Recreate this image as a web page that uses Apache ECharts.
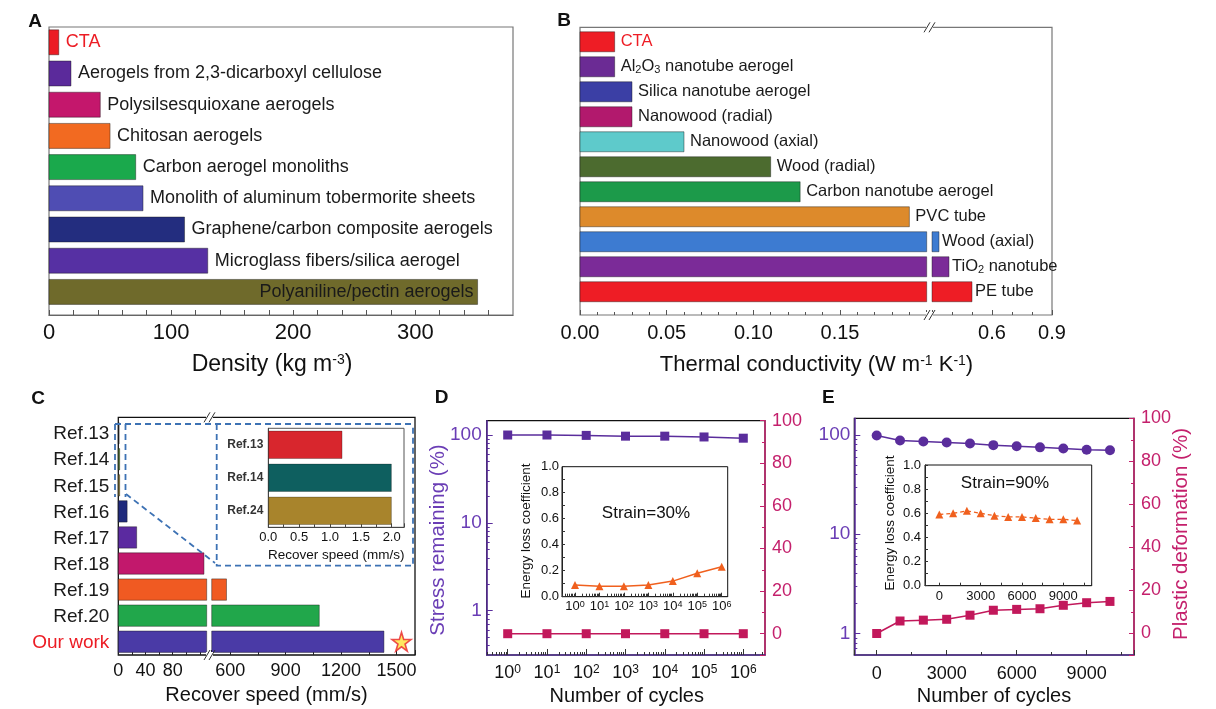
<!DOCTYPE html>
<html><head><meta charset="utf-8">
<script src="https://cdn.jsdelivr.net/npm/echarts@6/dist/echarts.min.js"></script>
<style>html,body{margin:0;padding:0;background:#fff}#c{width:1216px;height:709px}</style>
</head><body><div id="c"></div>
<script>
const FONT = '"Liberation Sans", Arial, Helvetica, sans-serif';

// ---------- Panel A : density ----------
const densityCategories = ['CTA','Aerogels from 2,3-dicarboxyl cellulose','Polysilsesquioxane aerogels','Chitosan aerogels','Carbon aerogel monoliths','Monolith of aluminum tobermorite sheets','Graphene/carbon composite aerogels','Microglass fibers/silica aerogel','Polyaniline/pectin aerogels'];
const densityValues = [8, 18, 42, 50, 71, 77, 111, 130, 351];
const densityColors = ['#ec1c24','#5b2a9b','#c4176c','#f26a21','#1aa94c','#4f4db3','#232d7f','#5630a3','#6f6a2b'];

// ---------- Panel B : thermal conductivity ----------
const conductivityCategories = ['CTA','Al{sub|2}O{sub|3} nanotube aerogel','Silica nanotube aerogel','Nanowood (radial)','Nanowood (axial)','Wood (radial)','Carbon nanotube aerogel','PVC tube','Wood (axial)','TiO{sub|2} nanotube','PE tube'];
const conductivityValues = [0.020, 0.020, 0.030, 0.030, 0.060, 0.110, 0.127, 0.190, 0.335, 0.385, 0.500];
const conductivityColors = ['#ee1d25','#6b2b94','#3b3fa5','#b2196d','#5ecacb','#4c6b2f','#1c9a4a','#dd8a2b','#3d7bd1','#7b2b98','#ee1d25'];

// ---------- Panel C : recover speed ----------
const speedCategories = ['Ref.13','Ref.14','Ref.15','Ref.16','Ref.17','Ref.18','Ref.19','Ref.20','Our work'];
const speedValues = [1.2, 2, 2, 13, 27, 126, 580, 1082, 1432];
const speedColors = ['#222222','#4f7a2a','#8a7a2a','#1f2a7c','#5b2aa0','#c2186c','#f05a22','#21a74b','#4a3aa6'];
const starSpeed = [[1527, 8]];
const insetSpeedCategories = ['Ref.13','Ref.14','Ref.24'];
const insetSpeedValues = [1.2, 2.0, 2.0];
const insetSpeedColors = ['#d8262d','#0e5f5f','#a8842c'];

// ---------- Panel D ----------
const cyclesD = [1, 10, 100, 1000, 10000, 100000, 1000000];
const stressD = [100, 100, 99, 97, 97, 95, 92];
const plasticD = [0, 0, 0, 0, 0, 0, 0];
const energyD = [0.09, 0.08, 0.08, 0.09, 0.12, 0.18, 0.23];

// ---------- Panel E ----------
const cyclesE = [0, 1000, 2000, 3000, 4000, 5000, 6000, 7000, 8000, 9000, 10000];
const stressE = [99, 88, 86, 84, 82, 79, 77, 75, 73, 71, 70];
const plasticE = [0, 5.8, 6.2, 6.6, 8.5, 10.8, 11.2, 11.5, 13.1, 14.3, 14.9];
const energyE = [0.59, 0.60, 0.62, 0.60, 0.58, 0.57, 0.57, 0.56, 0.55, 0.55, 0.54];

const PURPLE = '#5a2d9c', PURPLE_T = '#6a3db5', MAGENTA = '#c4206c', ORANGE = '#f0601e';

function isPow10(v) { const l = Math.log10(v); return Math.abs(l - Math.round(l)) < 1e-6; }
function powLabel(v) { return isPow10(v) ? '{b|10}{s|' + Math.round(Math.log10(v)) + '}' : ''; }
function plainPow(v) { return isPow10(v) ? String(Math.round(v)) : ''; }
function logMinor(lo, hi) {
  const r = [];
  for (let e = Math.floor(Math.log10(lo)); e <= Math.ceil(Math.log10(hi)); e++)
    for (let m = 2; m <= 9; m++) { const v = m * Math.pow(10, e); if (v > lo && v < hi) r.push(v); }
  return r;
}

function makeBarRender(cfg) {
  return function (params, api) {
    const i = api.value(1), v = api.value(0);
    const cs = params.coordSys;
    const p0 = api.coord([0, i]), p1 = api.coord([v, i]);
    const h = api.size([0, cfg.barH], [0, i])[1];
    const x0 = Math.max(p0[0], cs.x), x1 = Math.min(p1[0], cs.x + cs.width);
    const kids = [];
    if (x1 > x0) kids.push({ type: 'rect', shape: { x: x0, y: p1[1] - h / 2, width: x1 - x0, height: h },
      style: { fill: cfg.colors[i], stroke: 'rgba(20,20,20,0.6)', lineWidth: 0.7 } });
    if (cfg.label) { const L = cfg.label(i, v, p1, cs); if (L) kids.push(L); }
    return { type: 'group', children: kids };
  };
}
function txt(x, y, text, size, color, extra) {
  return Object.assign({ type: 'text', x: x, y: y, z: 100,
    style: Object.assign({ text: text, fontSize: size, fontFamily: FONT, fill: color || '#111',
      align: 'center', verticalAlign: 'middle', textAlign: 'center', textVerticalAlign: 'middle' }, (extra && extra.style) || {}) },
    extra && extra.rotation ? { rotation: extra.rotation } : {});
}
const supRich = (base) => ({ s: { fontSize: Math.round(base * 0.62), verticalAlign: 'top', fontFamily: FONT } });
const subRich = { sub: { fontSize: 11, verticalAlign: 'bottom', fontFamily: FONT } };

const hidden = (g) => ({ gridIndex: g, type: 'value', show: false, min: 0, max: 1 });
const tickIn = (len, color) => ({ show: true, inside: true, length: len, lineStyle: { color: color || '#444' } });
const minorIn = (n, color) => ({ show: true, splitNumber: n, length: 3, lineStyle: { color: color || '#444' } });
const plain = v => String(v);

const grids = [
  { left: 49, top: 27, width: 464, height: 288, show: true, borderColor: '#777', borderWidth: 1.2 },       // 0 A
  { left: 580, top: 27.3, width: 472, height: 287.7, show: true, borderColor: '#777', borderWidth: 1.2 },  // 1 B frame
  { left: 580, top: 27.3, width: 346.7, height: 287.7 },                                                   // 2 B left
  { left: 932, top: 27.3, width: 120, height: 287.7 },                                                     // 3 B right
  { left: 118.3, top: 417.3, width: 296.7, height: 237.7, show: true, borderColor: '#111', borderWidth: 1.3 }, // 4 C frame
  { left: 118.3, top: 417.3, width: 88.4, height: 237.7 },                                                 // 5 C left
  { left: 211.7, top: 417.3, width: 203.3, height: 237.7 },                                                // 6 C right
  { left: 268.3, top: 428.3, width: 135.7, height: 99, show: true, borderColor: '#555', borderWidth: 1, backgroundColor: '#fff' }, // 7 C inset
  { left: 486.7, top: 420.7, width: 278.3, height: 234.3, show: true, borderColor: '#111', borderWidth: 1.2 }, // 8 D
  { left: 562, top: 466.7, width: 165.7, height: 130, show: true, borderColor: '#111', borderWidth: 1 },  // 9 D inset
  { left: 854.3, top: 418.3, width: 279.7, height: 236.7, show: true, borderColor: '#111', borderWidth: 1.2 }, // 10 E
  { left: 925, top: 465, width: 166.7, height: 120.7, show: true, borderColor: '#111', borderWidth: 1 }   // 11 E inset
];

const D_X = [0.292, 3.57e6], D_Y = [0.313, 145.5], DI_X = [0.294, 1.76e6], E_Y = [0.604, 147.3];
const minorOverlay = (g, dim, ext, pos, color) => ({
  gridIndex: g, type: 'log', logBase: 10, min: ext[0], max: ext[1], position: pos, splitLine: { show: false },
  axisLine: { show: false, onZero: false }, axisLabel: { show: false },
  axisTick: { show: true, inside: true, length: 3, customValues: logMinor(ext[0], ext[1]), lineStyle: { color: color } } });

const xAxes = [
  { gridIndex: 0, type: 'value', min: 0, max: 380, interval: 20, splitLine: { show: false },
    axisLine: { show: true, lineStyle: { color: '#666', width: 1.2 } }, axisTick: tickIn(5, '#555'),
    axisLabel: { formatter: v => (v % 100 === 0 ? String(v) : ''), fontSize: 22, color: '#111', margin: 7, fontFamily: FONT, showMaxLabel: false } },
  hidden(1),
  { gridIndex: 2, type: 'value', min: 0, max: 0.2, interval: 0.05, splitLine: { show: false },
    axisLine: { show: false }, axisTick: tickIn(5, '#555'), minorTick: minorIn(5, '#555'),
    axisLabel: { formatter: v => v.toFixed(2), fontSize: 20, color: '#111', margin: 8, fontFamily: FONT, showMaxLabel: false } },
  { gridIndex: 3, type: 'value', min: 0.3, max: 0.9, interval: 0.3, splitLine: { show: false },
    axisLine: { show: false }, axisTick: tickIn(5, '#555'), minorTick: minorIn(3, '#555'),
    axisLabel: { formatter: v => v.toFixed(1), fontSize: 20, color: '#111', margin: 8, fontFamily: FONT, showMinLabel: false } },
  hidden(4),
  { gridIndex: 5, type: 'value', min: 0, max: 130, interval: 20, splitLine: { show: false },
    axisLine: { show: false }, axisTick: tickIn(5, '#222'),
    axisLabel: { formatter: v => (v % 40 === 0 && v <= 80 ? String(v) : ''), fontSize: 18, color: '#111', margin: 7, fontFamily: FONT, showMaxLabel: false } },
  { gridIndex: 6, type: 'value', min: 500, max: 1600, splitNumber: 4, splitLine: { show: false },
    axisLine: { show: false }, axisTick: tickIn(5, '#222'), minorTick: minorIn(2, '#222'),
    axisLabel: { formatter: plain, fontSize: 18, color: '#111', margin: 7, fontFamily: FONT, showMinLabel: false, showMaxLabel: false } },
  { gridIndex: 7, type: 'value', min: 0, max: 2.2, interval: 0.5, splitLine: { show: false },
    axisLine: { show: true, lineStyle: { color: '#444' } }, axisTick: tickIn(4, '#444'), minorTick: minorIn(2, '#444'),
    axisLabel: { formatter: v => v.toFixed(1), fontSize: 13, color: '#111', margin: 4, fontFamily: FONT, showMaxLabel: false },
    name: 'Recover speed (mm/s)', nameLocation: 'middle', nameGap: 21, nameTextStyle: { fontSize: 13.5, color: '#111', fontFamily: FONT } },
  { gridIndex: 8, type: 'log', logBase: 10, min: D_X[0], max: D_X[1], splitLine: { show: false },
    axisLine: { show: true, lineStyle: { color: '#4b2a8a', width: 1.5 } }, axisTick: tickIn(6, '#333'),
    axisLabel: { formatter: powLabel, fontSize: 18, color: '#111', margin: 9, fontFamily: FONT, showMinLabel: false, showMaxLabel: false,
      rich: { b: { fontSize: 18, fontFamily: FONT }, s: { fontSize: 12, verticalAlign: 'top', fontFamily: FONT } } } },
  { gridIndex: 9, type: 'log', logBase: 10, min: DI_X[0], max: DI_X[1], splitLine: { show: false },
    axisLine: { show: true, lineStyle: { color: '#222' } }, axisTick: tickIn(4, '#333'),
    axisLabel: { formatter: powLabel, fontSize: 13, color: '#111', margin: 3, fontFamily: FONT, showMinLabel: false, showMaxLabel: false,
      rich: { b: { fontSize: 13, fontFamily: FONT }, s: { fontSize: 9, verticalAlign: 'top', fontFamily: FONT } } } },
  { gridIndex: 10, type: 'value', min: -960, max: 11030, splitNumber: 4, splitLine: { show: false },
    axisLine: { show: true, lineStyle: { color: '#4b2a8a', width: 1.5 } }, axisTick: tickIn(5, '#333'), minorTick: minorIn(2, '#333'),
    axisLabel: { formatter: plain, fontSize: 18, color: '#111', margin: 10, fontFamily: FONT, showMinLabel: false, showMaxLabel: false } },
  { gridIndex: 11, type: 'value', min: -1040, max: 11060, splitNumber: 4, splitLine: { show: false },
    axisLine: { show: true, lineStyle: { color: '#222' } }, axisTick: tickIn(3, '#333'), minorTick: minorIn(2, '#333'),
    axisLabel: { formatter: plain, fontSize: 13, color: '#111', margin: 4, fontFamily: FONT, showMinLabel: false, showMaxLabel: false } },
  minorOverlay(8, 'x', D_X, 'bottom', '#333'),   // 12
  minorOverlay(9, 'x', DI_X, 'bottom', '#333')   // 13
];

const yHiddenVal = (g, mn, mx) => ({ gridIndex: g, type: 'value', min: mn, max: mx, inverse: true, show: false });
const yAxes = [
  yHiddenVal(0, -0.49, 8.74),
  hidden(1),
  yHiddenVal(2, -0.58, 10.93),
  yHiddenVal(3, -0.58, 10.93),
  hidden(4),
  yHiddenVal(5, -0.61, 8.51),
  yHiddenVal(6, -0.61, 8.51),
  { gridIndex: 7, type: 'category', inverse: true, data: insetSpeedCategories,
    axisLine: { show: true, lineStyle: { color: '#444' } }, axisTick: { show: false },
    axisLabel: { fontSize: 12, fontWeight: 'bold', color: '#333', margin: 5, fontFamily: FONT } },
  { gridIndex: 8, type: 'log', logBase: 10, min: D_Y[0], max: D_Y[1], position: 'left', splitLine: { show: false },
    axisLine: { show: true, lineStyle: { color: PURPLE, width: 1.5 } }, axisTick: tickIn(6, PURPLE),
    axisLabel: { formatter: plainPow, fontSize: 19, color: PURPLE_T, margin: 5, fontFamily: FONT, showMinLabel: false, showMaxLabel: false } },
  { gridIndex: 8, type: 'value', min: -10, max: 100, position: 'right', splitLine: { show: false },
    axisLine: { show: true, lineStyle: { color: MAGENTA, width: 1.5 } }, axisTick: tickIn(5, MAGENTA), minorTick: minorIn(2, MAGENTA),
    axisLabel: { fontSize: 18, color: MAGENTA, margin: 7, fontFamily: FONT, showMinLabel: false } },
  { gridIndex: 9, type: 'value', min: 0, max: 1, interval: 0.2, splitLine: { show: false },
    axisLine: { show: true, lineStyle: { color: '#222' } }, axisTick: tickIn(3, '#333'), minorTick: minorIn(2, '#333'),
    axisLabel: { formatter: v => v.toFixed(1), fontSize: 13, color: '#111', margin: 3, fontFamily: FONT } },
  { gridIndex: 10, type: 'log', logBase: 10, min: E_Y[0], max: E_Y[1], position: 'left', splitLine: { show: false },
    axisLine: { show: true, lineStyle: { color: PURPLE, width: 1.5 } }, axisTick: tickIn(6, PURPLE),
    axisLabel: { formatter: plainPow, fontSize: 19, color: PURPLE_T, margin: 4, fontFamily: FONT, showMinLabel: false, showMaxLabel: false } },
  { gridIndex: 10, type: 'value', min: -10, max: 100, position: 'right', splitLine: { show: false },
    axisLine: { show: true, lineStyle: { color: MAGENTA, width: 1.5 } }, axisTick: tickIn(5, MAGENTA), minorTick: minorIn(2, MAGENTA),
    axisLabel: { fontSize: 18, color: MAGENTA, margin: 7, fontFamily: FONT, showMinLabel: false } },
  { gridIndex: 11, type: 'value', min: 0, max: 1, interval: 0.2, splitLine: { show: false },
    axisLine: { show: true, lineStyle: { color: '#222' } }, axisTick: tickIn(3, '#333'), minorTick: minorIn(2, '#333'),
    axisLabel: { formatter: v => v.toFixed(1), fontSize: 13, color: '#111', margin: 4, fontFamily: FONT } },
  minorOverlay(8, 'y', D_Y, 'left', PURPLE),   // 14
  minorOverlay(10, 'y', E_Y, 'left', PURPLE)   // 15
];
xAxes.concat(yAxes).forEach(a => { a.axisLine = Object.assign({}, a.axisLine || {}, { onZero: false }); });

const pairs = (vals) => vals.map((v, i) => [v, i]);
const zip = (xs, ys) => xs.map((x, i) => [x, ys[i]]);

const series = [
  // A
  { type: 'custom', coordinateSystem: 'cartesian2d', xAxisIndex: 0, yAxisIndex: 0, encode: { x: 0, y: 1 }, data: pairs(densityValues),
    renderItem: makeBarRender({ colors: densityColors, barH: 0.8, label: (i, v, p) => {
      const inside = i === densityCategories.length - 1;
      return { type: 'text', x: inside ? p[0] - 4 : p[0] + 7, y: p[1],
        style: { text: densityCategories[i], fontSize: 18, fontFamily: FONT, fill: i === 0 ? '#ec1c24' : '#1a1a1a',
          align: inside ? 'right' : 'left', verticalAlign: 'middle' } };
    } }) },
  // B left
  { type: 'custom', coordinateSystem: 'cartesian2d', xAxisIndex: 2, yAxisIndex: 2, encode: { x: 0, y: 1 }, data: pairs(conductivityValues),
    renderItem: makeBarRender({ colors: conductivityColors, barH: 0.8, label: (i, v, p) => v > 0.2 ? null : ({
      type: 'text', x: p[0] + 6, y: p[1], style: { text: conductivityCategories[i], rich: subRich, fontSize: 16.5, fontFamily: FONT,
        fill: i === 0 ? '#ee1d25' : '#1a1a1a', align: 'left', verticalAlign: 'middle' } }) }) },
  // B right
  { type: 'custom', coordinateSystem: 'cartesian2d', xAxisIndex: 3, yAxisIndex: 3, encode: { x: 0, y: 1 }, data: pairs(conductivityValues),
    renderItem: makeBarRender({ colors: conductivityColors, barH: 0.8, label: (i, v, p) => v <= 0.2 ? null : ({
      type: 'text', x: p[0] + 3, y: p[1], style: { text: conductivityCategories[i], rich: subRich, fontSize: 16.5, fontFamily: FONT,
        fill: '#1a1a1a', align: 'left', verticalAlign: 'middle' } }) }) },
  // C left (with category labels)
  { type: 'custom', coordinateSystem: 'cartesian2d', xAxisIndex: 5, yAxisIndex: 5, encode: { x: 0, y: 1 }, data: pairs(speedValues),
    renderItem: makeBarRender({ colors: speedColors, barH: 0.82, label: (i, v, p, cs) => ({
      type: 'text', x: cs.x - 9, y: p[1] + 1, style: { text: speedCategories[i], fontSize: 19, fontFamily: FONT,
        fill: i === speedCategories.length - 1 ? '#ec1c24' : '#1a1a1a', align: 'right', verticalAlign: 'middle' } }) }) },
  // C right
  { type: 'custom', coordinateSystem: 'cartesian2d', xAxisIndex: 6, yAxisIndex: 6, encode: { x: 0, y: 1 }, data: pairs(speedValues),
    renderItem: makeBarRender({ colors: speedColors, barH: 0.82 }) },
  { type: 'scatter', xAxisIndex: 6, yAxisIndex: 6, data: starSpeed, z: 5,
    symbol: 'path://M50,0 L61,35 L98,35 L68,57 L79,91 L50,70 L21,91 L32,57 L2,35 L39,35 Z', symbolSize: 19,
    itemStyle: { color: '#ffe23a', borderColor: '#e8232a', borderWidth: 1.6 } },
  // C inset
  { type: 'bar', xAxisIndex: 7, yAxisIndex: 7, barWidth: 28,
    data: insetSpeedValues.map((v, i) => ({ value: v, itemStyle: { color: insetSpeedColors[i], borderColor: 'rgba(20,20,20,0.5)', borderWidth: 0.6 } })) },
  // D
  { type: 'line', xAxisIndex: 8, yAxisIndex: 8, data: zip(cyclesD, stressD), symbol: 'rect', symbolSize: 9,
    itemStyle: { color: PURPLE }, lineStyle: { color: PURPLE, width: 1.5 } },
  { type: 'line', xAxisIndex: 8, yAxisIndex: 9, data: zip(cyclesD, plasticD), symbol: 'rect', symbolSize: 9,
    itemStyle: { color: '#c2185b' }, lineStyle: { color: '#c2185b', width: 1.5 } },
  { type: 'line', xAxisIndex: 9, yAxisIndex: 10, data: zip(cyclesD, energyD), symbol: 'triangle', symbolSize: 8,
    itemStyle: { color: ORANGE }, lineStyle: { color: ORANGE, width: 1.5 } },
  // E
  { type: 'line', xAxisIndex: 10, yAxisIndex: 11, data: zip(cyclesE, stressE), symbol: 'circle', symbolSize: 10,
    itemStyle: { color: PURPLE }, lineStyle: { color: PURPLE, width: 1.5 } },
  { type: 'line', xAxisIndex: 10, yAxisIndex: 12, data: zip(cyclesE, plasticE), symbol: 'rect', symbolSize: 9,
    itemStyle: { color: '#c2185b' }, lineStyle: { color: '#c2185b', width: 1.5 } },
  { type: 'line', xAxisIndex: 11, yAxisIndex: 13, data: zip(cyclesE, energyE), symbol: 'triangle', symbolSize: 8,
    itemStyle: { color: ORANGE }, lineStyle: { color: ORANGE, width: 1.3, type: [4, 3] } }
];

const dash = (pts) => ({ type: 'polyline', z: 90, shape: { points: pts }, style: { stroke: '#3d72b4', lineWidth: 1.8, lineDash: [6, 4], fill: null } });
const seg = (pts, w) => ({ type: 'polyline', z: 95, shape: { points: pts }, style: { stroke: '#333', lineWidth: w || 1, fill: null } });
const whiteRect = (x, y, w, h) => ({ type: 'rect', z: 94, shape: { x: x, y: y, width: w, height: h }, style: { fill: '#fff' } });
const breakMark = (x, y) => [whiteRect(x - 3, y - 3, 7, 6), seg([[x - 5, y + 5], [x + 1, y - 5]]), seg([[x, y + 5], [x + 6, y - 5]])];

const graphics = [
  txt(35, 21.7, 'A', 19, '#111', { style: { fontWeight: 'bold' } }),
  txt(564, 21, 'B', 19, '#111', { style: { fontWeight: 'bold' } }),
  txt(38, 398.3, 'C', 19, '#111', { style: { fontWeight: 'bold' } }),
  txt(441.7, 397.3, 'D', 19, '#111', { style: { fontWeight: 'bold' } }),
  txt(828.3, 397.3, 'E', 19, '#111', { style: { fontWeight: 'bold' } }),
  txt(272, 365, 'Density (kg m{s|-3})', 23, '#111', { style: { rich: supRich(23) } }),
  txt(816.5, 365, 'Thermal conductivity (W m{s|-1} K{s|-1})', 22, '#111', { style: { rich: supRich(22) } }),
  txt(266.5, 695, 'Recover speed (mm/s)', 20, '#111'),
  txt(626.7, 696.7, 'Number of cycles', 20, '#111'),
  txt(994, 696.7, 'Number of cycles', 20, '#111'),
  txt(438, 540, 'Stress remaining (%)', 20.5, PURPLE_T, { rotation: Math.PI / 2 }),
  txt(1181.7, 534, 'Plastic deformation (%)', 20.5, MAGENTA, { rotation: Math.PI / 2 }),
  txt(526, 531, 'Energy loss coefficient', 13.5, '#111', { rotation: Math.PI / 2 }),
  txt(890, 523, 'Energy loss coefficient', 13.5, '#111', { rotation: Math.PI / 2 }),
  txt(646, 513.3, 'Strain=30%', 17, '#111'),
  txt(1005, 483.3, 'Strain=90%', 17, '#111'),
  dash([[115, 424], [413, 424]]),
  dash([[115, 424], [115, 497]]),
  dash([[125.5, 424], [125.5, 497]]),
  dash([[126, 494], [215, 563]]),
  dash([[216.7, 424], [216.7, 565.7], [413, 565.7], [413, 424]])
].concat(breakMark(929, 27.3), breakMark(929, 315), breakMark(209, 417.3), breakMark(209, 655));

const chart = echarts.init(document.getElementById('c'), null, { renderer: 'canvas' });
chart.setOption({
  animation: false,
  backgroundColor: '#fff',
  textStyle: { fontFamily: FONT },
  grid: grids, xAxis: xAxes, yAxis: yAxes, series: series, graphic: graphics
});
</script></body></html>
